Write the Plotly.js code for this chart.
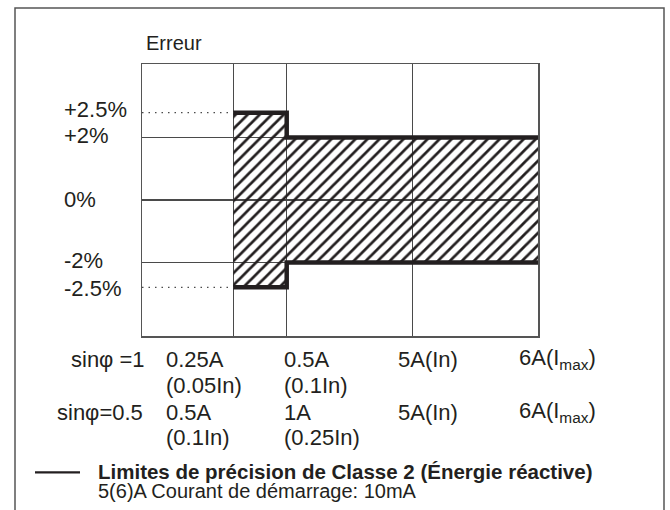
<!DOCTYPE html>
<html>
<head>
<meta charset="utf-8">
<script src="https://cdn.plot.ly/plotly-3.0.1.min.js"></script>
<style>
  html, body { margin: 0; padding: 0; background: #ffffff; }
  #chart { width: 670px; height: 510px; }
</style>
</head>
<body>
<div id="chart"></div>
<script>
// ---------- data ----------
// Accuracy limits (Class 2, reactive energy): limit starts at each current point
const limitCurrents = ['0.25A', '0.5A', '6A'];
const limitPct = [2.5, 2, 2];

// Error axis labels (%)
const errorTicksPct = [2.5, 2, 0, -2, -2.5];
const errorTickText = ['+2.5%', '+2%', '0%', '-2%', '-2.5%'];

// Current axis (schematic columns)
const currentPoints = ['0.25A', '0.5A', '5A', '6A'];
const rowLabels = ['sin\u03c6 =1', 'sin\u03c6=0.5'];
const sin1Labels = ['0.25A<br>(0.05In)', '0.5A<br>(0.1In)', '5A(In)', '6A(I<sub>max</sub>)'];
const sin05Labels = ['0.5A<br>(0.1In)', '1A<br>(0.25In)', '5A(In)', '6A(I<sub>max</sub>)'];

const yTitle = 'Erreur';
const legendTitle = 'Limites de précision de Classe 2 (Énergie réactive)';
const legendNote = '5(6)A Courant de démarrage: 10mA';

// ---------- schematic scales (layout) ----------
const currentPos = { '0.25A': 91.3, '0.5A': 144.7, '5A': 270.3, '6A': 396 };
const errorPosTable = [2.79, 2, 0, -2, -2.79];
function errPos(p) { return errorPosTable[errorTicksPct.indexOf(p)]; }

const M = { l: 142, r: 132, t: 64, b: 174 };
const PW = 670 - M.l - M.r, PH = 510 - M.t - M.b;
function px(x) { return (x - M.l) / PW; }
function py(y) { return (510 - M.b - y) / PH; }

const ink = '#231f20';
const gridC = '#4a4a4a';
const FONT = 'Liberation Sans, Arial, Helvetica, sans-serif';

// step paths built from the data arrays
function stepPath(sign) {
  const xs = [], ys = [];
  for (let i = 0; i < limitCurrents.length; i++) {
    const x = currentPos[limitCurrents[i]];
    const y = sign * errPos(limitPct[i]);
    if (i > 0) { xs.push(x); ys.push(sign * errPos(limitPct[i - 1])); }
    xs.push(x); ys.push(y);
  }
  return { xs, ys };
}
const up = stepPath(1), lo = stepPath(-1);

const traces = [
  {
    x: up.xs.concat(lo.xs.slice().reverse()),
    y: up.ys.concat(lo.ys.slice().reverse()),
    type: 'scatter', mode: 'lines', fill: 'toself',
    fillcolor: 'rgba(0,0,0,0)',
    fillpattern: { shape: '/', size: 8.5, solidity: 0.32, fgcolor: ink, bgcolor: 'rgba(255,255,255,0)' },
    line: { width: 0 }, hoverinfo: 'skip', showlegend: false
  },
  { x: up.xs, y: up.ys, type: 'scatter', mode: 'lines', line: { color: ink, width: 4.5 }, showlegend: false, hoverinfo: 'skip' },
  { x: lo.xs, y: lo.ys, type: 'scatter', mode: 'lines', line: { color: ink, width: 4.5 }, showlegend: false, hoverinfo: 'skip' }
];

const annotations = [];
function ann(text, x, y, xanchor, size, bold) {
  annotations.push({
    text: bold ? '<b>' + text + '</b>' : text,
    xref: 'paper', yref: 'paper', x: px(x), y: py(y),
    xanchor: xanchor, yanchor: 'middle', align: 'left', showarrow: false,
    font: { family: FONT, size: size, color: ink }
  });
}
// y labels
const yLabelY = [110, 135, 199, 260, 288];
errorTickText.forEach((t, i) => ann(t, 62, yLabelY[i], 'left', 22));
ann(yTitle, 144, 43, 'left', 20);
// x labels (one annotation per text line)
const colLeft = [164, 282, 396, 517];
const row1Y = [359, 385], row2Y = [412, 437];
ann(rowLabels[0], 147, row1Y[0], 'right', 22);
ann(rowLabels[1], 145, row2Y[0], 'right', 22);
function rowAnn(labels, ys) {
  labels.forEach((t, i) => t.split('<br>').forEach((line, k) => ann(line, colLeft[i], ys[k], 'left', 22)));
}
rowAnn(sin1Labels, row1Y);
rowAnn(sin05Labels, row2Y);
// legend
ann(legendTitle, 96, 471.5, 'left', 20.5, true);
ann(legendNote, 96, 491, 'left', 20);

const shapes = [
  // outer frame
  { type: 'rect', xref: 'paper', yref: 'paper', x0: px(15), x1: px(664), y0: py(515), y1: py(8), line: { color: '#555', width: 1.5 } },
  // dotted +/-2.5% guides
  { type: 'line', xref: 'x', yref: 'y', x0: 0, x1: currentPos['0.25A'], y0: errPos(2.5), y1: errPos(2.5), line: { color: gridC, width: 1.2, dash: '1.5px,5px' } },
  { type: 'line', xref: 'x', yref: 'y', x0: 0, x1: currentPos['0.25A'], y0: errPos(-2.5), y1: errPos(-2.5), line: { color: gridC, width: 1.2, dash: '1.5px,5px' } },
  // legend line sample
  { type: 'line', xref: 'paper', yref: 'paper', x0: px(35), x1: px(80), y0: py(472.3), y1: py(472.3), line: { color: ink, width: 2.2 } }
];

const layout = {
  width: 670, height: 510,
  margin: M,
  paper_bgcolor: '#ffffff', plot_bgcolor: '#ffffff',
  showlegend: false,
  xaxis: {
    range: [0, 396], tickvals: currentPoints.slice(0, 3).map(c => currentPos[c]),
    showticklabels: false, ticks: '', showgrid: true, gridcolor: gridC, gridwidth: 1.2,
    zeroline: false, showline: true, mirror: true, linecolor: '#555', linewidth: 1.5, fixedrange: true
  },
  yaxis: {
    range: [-4.345, 4.345], tickvals: [2, 0, -2],
    showticklabels: false, ticks: '', showgrid: true, gridcolor: gridC, gridwidth: 1.2,
    zeroline: false, showline: true, mirror: true, linecolor: '#555', linewidth: 1.5, fixedrange: true
  },
  annotations: annotations,
  shapes: shapes
};

Plotly.newPlot('chart', traces, layout, { staticPlot: true, displayModeBar: false });
</script>
</body>
</html>
